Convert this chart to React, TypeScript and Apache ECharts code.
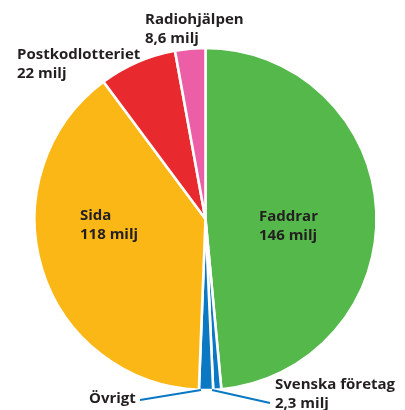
import React, { useEffect, useRef } from "react";
import * as echarts from "echarts";

const categories = ["Faddrar", "Svenska företag", "Övrigt", "Sida", "Postkodlotteriet", "Radiohjälpen"];
const values = [146, 2.3, 4, 118, 22, 8.6];
const showValue = [true, true, false, true, true, true];
const colors = ["#55b84b", "#0a78c2", "#0a78c2", "#fbb716", "#e8292d", "#ec5ea6"];

// label placement (layout only)
const labelPos: Record<number, any> = {
  0: { x: 259, y: 224 },
  1: { x: 275, y: 392 },
  2: { x: 89, y: 397 },
  3: { x: 80, y: 223 },
  4: { x: 17, y: 62 },
  5: { x: 145, y: 27 },
};
// leader lines for the two thin slices (annotation layout)
const leaderLines = [
  [[212, 390], [270, 403]],
  [[201, 390], [140, 400]],
];

export default function App() {
  const ref = useRef<HTMLDivElement>(null);
  useEffect(() => {
    const chart = echarts.init(ref.current!, null, { renderer: "svg" });
    chart.setOption({
      animation: false,
      graphic: leaderLines.map((pts) => ({
        type: "polyline",
        shape: { points: pts },
        style: { stroke: "#0a78c2", lineWidth: 2, fill: null },
        z: 10,
      })),
      series: [
        {
          type: "pie",
          center: [205.5, 219],
          radius: 171,
          startAngle: 90,
          clockwise: true,
          avoidLabelOverlap: false,
          itemStyle: { borderColor: "#ffffff", borderWidth: 2.6 },
          label: {
            show: true,
            position: "inside",
            color: "#231f20",
            fontFamily: "Open Sans",
            fontWeight: "bold",
            fontSize: 15,
            lineHeight: 19,
            align: "left",
            formatter: (p: any) =>
              showValue[p.dataIndex]
                ? `${p.name}\n${String(p.value).replace(".", ",")} milj`
                : p.name,
          },
          labelLine: { show: false },
          labelLayout: (p: any) => {
            const lp = labelPos[p.dataIndex];
            return { x: lp.x, y: lp.y, align: "left", verticalAlign: "middle" };
          },
          data: categories.map((c, i) => ({
            name: c,
            value: values[i],
            itemStyle: { color: colors[i] },
          })),
        },
      ],
    });
    return () => chart.dispose();
  }, []);
  return (
    <div
      ref={ref}
      style={{ position: "fixed", left: 0, top: 0, width: 405, height: 410 }}
    />
  );
}
